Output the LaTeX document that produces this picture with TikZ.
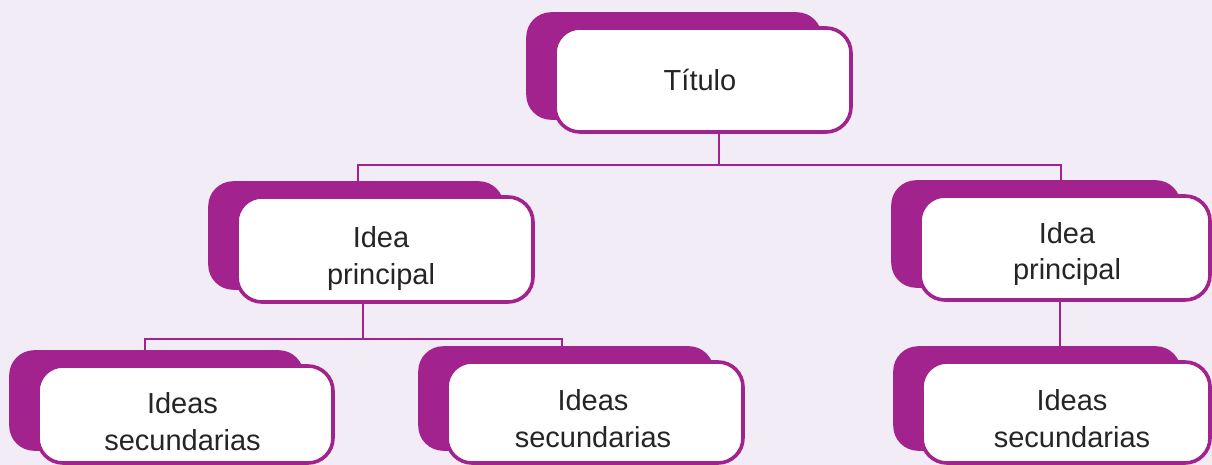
\documentclass[tikz,border=0pt]{standalone}
\usepackage{fontspec}
\setmainfont{Liberation Sans}
\usetikzlibrary{backgrounds}
\definecolor{mag}{HTML}{A2238D}
\definecolor{bg}{HTML}{F1ECF5}
\definecolor{txt}{HTML}{262425}
\tikzset{
  box/.style={draw=mag, fill=white, line width=3.6pt, rounded corners=25pt, inner sep=0pt},
  lbl/.style={align=center, text=txt, font=\fontsize{29}{36.5}\selectfont, inner sep=0pt},
  shade/.style={fill=mag, rounded corners=25pt},
  link/.style={draw=mag, line width=2.2pt}
}
\begin{document}
\begin{tikzpicture}[x=1pt,y=-1pt]
\useasboundingbox (0,0) rectangle (1212,465);
\node[box, minimum width=296pt, minimum height=104pt] (t) at (703,80) {};
\node[box, minimum width=296pt, minimum height=105pt] (L) at (385,249.5) {};
\node[box, minimum width=290pt, minimum height=104pt] (R) at (1065,248) {};
\node[box, minimum width=295pt, minimum height=97pt] (B1) at (185.5,414.5) {};
\node[box, minimum width=296pt, minimum height=101pt] (B2) at (595,412.5) {};
\node[box, minimum width=288pt, minimum height=101pt] (B3) at (1066,412.5) {};
\node[lbl] (tt) at ([xshift=-3pt]t.center) {Título};
\node[lbl] (Lt) at ([xshift=-4pt,yshift=-9pt]L.center) {Idea\\principal};
\node[lbl] (Rt) at ([xshift=2pt,yshift=-6pt]R.center) {Idea\\principal};
\node[lbl] (B1t) at ([xshift=-3pt,yshift=-7pt]B1.center) {Ideas\\secundarias};
\node[lbl] (B2t) at ([xshift=-2pt,yshift=-6pt]B2.center) {Ideas\\secundarias};
\node[lbl] (B3t) at ([xshift=6pt,yshift=-6pt]B3.center) {Ideas\\secundarias};
\coordinate (j0) at (719,165);
\coordinate (jl) at (358,165);
\coordinate (jr) at (1061,165);
\coordinate (k0) at (363,339);
\coordinate (kl) at (145,339);
\coordinate (kr) at (562,339);
\begin{pgfonlayer}{background}
\fill[bg] (0,0) rectangle (1212,465);
\draw[link] (t.south -| j0) -- (j0);
\draw[link] (L.north -| jl) -- (jl) -- (jr) -- (R.north -| jr);
\draw[link] (L.south -| k0) -- (k0);
\draw[link] (B1.north -| kl) -- (kl) -- (kr) -- (B2.north -| kr);
\draw[link] (R.south -| 1060,0) -- (B3.north -| 1060,0);
\foreach \n in {t,L,R,B1,B2,B3}{
  \fill[shade] ([shift={(-27,-14)}]\n.south west) rectangle ([shift={(-31,-14)}]\n.north east);
}
\end{pgfonlayer}
\end{tikzpicture}
\end{document}
